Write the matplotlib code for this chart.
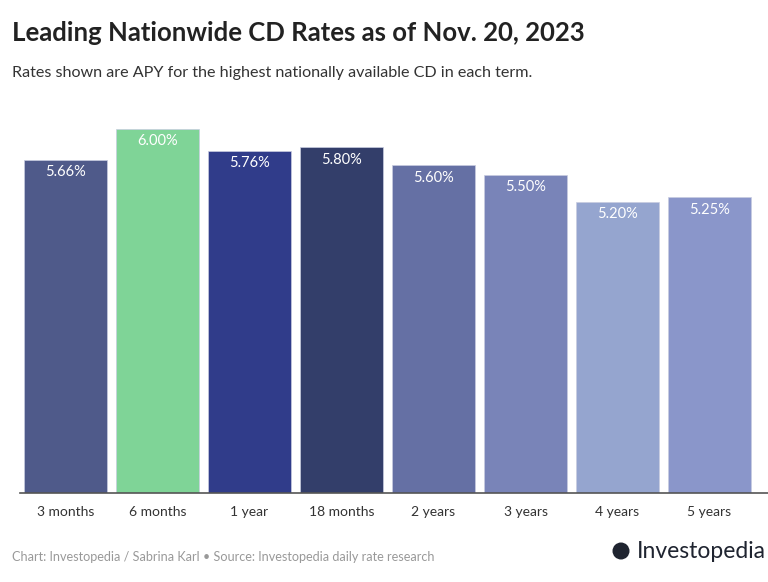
import matplotlib.pyplot as plt
from matplotlib.patches import Ellipse

terms = ['3 months', '6 months', '1 year', '18 months', '2 years', '3 years', '4 years', '5 years']
rates = [5.66, 6.00, 5.76, 5.80, 5.60, 5.50, 5.20, 5.25]
colors = ['#4f5a8a', '#7fd497', '#303c8a', '#333e6a', '#6570a4', '#7984b8', '#95a5cf', '#8a96ca']

plt.rcParams['font.family'] = ['Lato', 'DejaVu Sans']

fig = plt.figure(figsize=(7.68, 5.82), dpi=100)
ax = fig.add_axes([20 / 768, 89 / 582, 748 / 768, 364 / 582])

x = list(range(len(terms)))
ax.bar(x, rates, width=0.9, color=colors, edgecolor='#c8cce0', linewidth=0.5)
ax.set_ylim(2.0, 6.0)
ax.set_xlim(-0.495, 7.636)

for xi, r in zip(x, rates):
    ax.text(xi, r - 0.06, f'{r:.2f}%', ha='center', va='top', color='white', fontsize=10.5)

ax.set_xticks(x)
ax.set_xticklabels(terms, fontsize=10, color='#333333')
ax.tick_params(axis='x', length=0, pad=9)
ax.set_yticks([])
for s in ['top', 'right', 'left']:
    ax.spines[s].set_visible(False)
ax.spines['bottom'].set_color('#555555')
ax.spines['bottom'].set_linewidth(1.2)

fig.text(12 / 768, 1 - 33 / 582, 'Leading Nationwide CD Rates as of Nov. 20, 2023',
         fontsize=18.5, fontweight='bold', color='#222222', va='center')
fig.text(12 / 768, 1 - 73 / 582, 'Rates shown are APY for the highest nationally available CD in each term.',
         fontsize=11.6, color='#333333', va='center')
fig.text(12 / 768, 1 - 557 / 582, 'Chart: Investopedia / Sabrina Karl \u2022 Source: Investopedia daily rate research',
         fontsize=9.1, color='#999999', va='center')

# logo
fig.text(766 / 768, 1 - 552 / 582, 'Investopedia', fontsize=16.5, color='#1f2430',
         ha='right', va='center')
fig.patches.append(Ellipse((621 / 768, 1 - 551 / 582), 17 / 768, 17 / 582,
                           transform=fig.transFigure, facecolor='#1f2430', edgecolor='none'))

fig.savefig('out.png', dpi=100, facecolor='white')
